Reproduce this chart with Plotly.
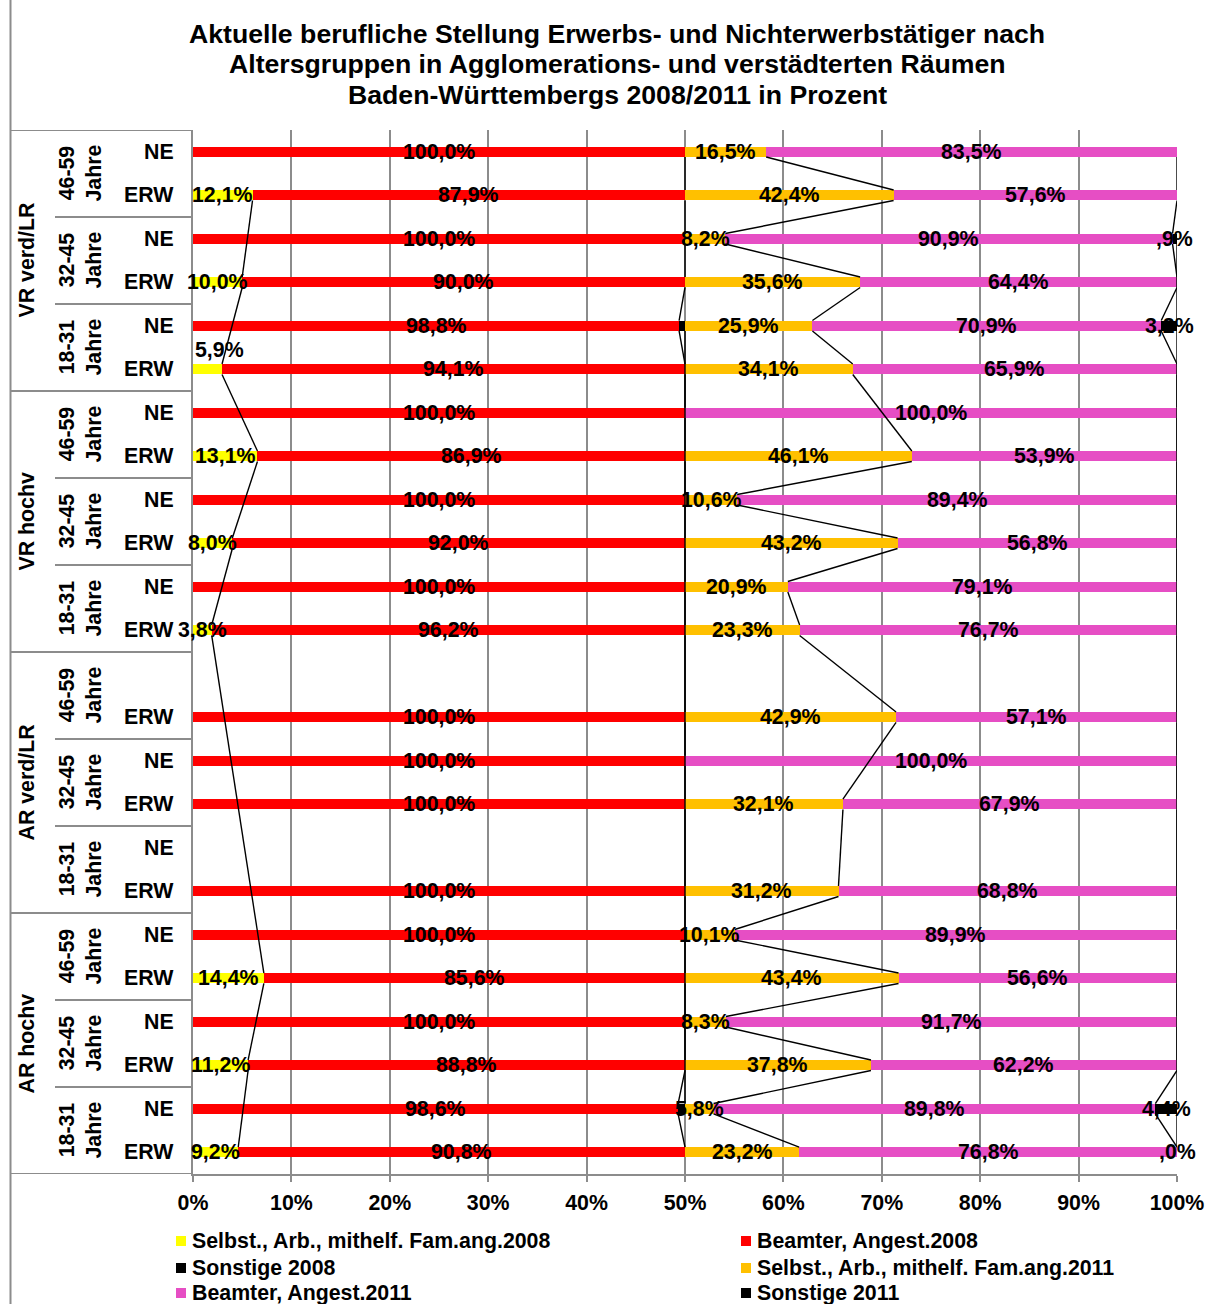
import plotly.graph_objects as go

# ---------------- data ----------------
regions = ["VR verd/LR", "VR hochv", "AR verd/LR", "AR hochv"]
age_groups = ["46-59<br>Jahre", "32-45<br>Jahre", "18-31<br>Jahre"]
row_labels = (["NE", "ERW"] * 6
              + ["", "ERW", "NE", "ERW", "NE", "ERW"]
              + ["NE", "ERW"] * 3)

series_names = [
    "Selbst., Arb., mithelf. Fam.ang.2008",
    "Beamter, Angest.2008",
    "Sonstige 2008",
    "Selbst., Arb., mithelf. Fam.ang.2011",
    "Beamter, Angest.2011",
    "Sonstige 2011",
]

selbst_2008 = [None, 12.1, None, 10.0, None, 5.9,
               None, 13.1, None, 8.0, None, 3.8,
               None, None, None, None, None, None,
               None, 14.4, None, 11.2, None, 9.2]
beamter_2008 = [100.0, 87.9, 100.0, 90.0, 98.8, 94.1,
                100.0, 86.9, 100.0, 92.0, 100.0, 96.2,
                None, 100.0, 100.0, 100.0, None, 100.0,
                100.0, 85.6, 100.0, 88.8, 98.6, 90.8]
sonstige_2008 = [None, None, None, None, 1.2, None,
                 None, None, None, None, None, None,
                 None, None, None, None, None, None,
                 None, None, None, None, 1.4, None]
selbst_2011 = [16.5, 42.4, 8.2, 35.6, 25.9, 34.1,
               None, 46.1, 10.6, 43.2, 20.9, 23.3,
               None, 42.9, None, 32.1, None, 31.2,
               10.1, 43.4, 8.3, 37.8, 5.8, 23.2]
beamter_2011 = [83.5, 57.6, 90.9, 64.4, 70.9, 65.9,
                100.0, 53.9, 89.4, 56.8, 79.1, 76.7,
                None, 57.1, 100.0, 67.9, None, 68.8,
                89.9, 56.6, 91.7, 62.2, 89.8, 76.8]
sonstige_2011 = [None, None, 0.9, None, 3.2, None,
                 None, None, None, None, None, None,
                 None, None, None, None, None, None,
                 None, None, None, None, 4.4, 0.0]

series_values = [selbst_2008, beamter_2008, sonstige_2008,
                 selbst_2011, beamter_2011, sonstige_2011]
colors = ["#FFFF00", "#FF0000", "#000000", "#FFC000", "#E64EC4", "#000000"]
show_labels = [True, True, False, True, True, True]

tick_vals = [0, 20, 40, 60, 80, 100, 120, 140, 160, 180, 200]
tick_text = ["0%", "10%", "20%", "30%", "40%", "50%", "60%", "70%", "80%", "90%", "100%"]

title_lines = [
    "Aktuelle berufliche Stellung Erwerbs- und Nichterwerbstätiger nach",
    "Altersgruppen in Agglomerations- und verstädterten Räumen",
    "Baden-Württembergs 2008/2011 in Prozent",
]

# ---------------- layout helpers ----------------
W, H = 1216, 1304
L, R, T, B = 193, 1177, 130, 1174
FONT = "Liberation Sans, Arial, sans-serif"
GRID = "#8c8c8c"
FS = 21.33
TFS = 26.67


def px(x):
    return (x - L) / (R - L)


def py(y):
    return (B - y) / (B - T)


def fmt(v):
    s = f"{v:.1f}".replace(".", ",")
    if s.startswith("0,"):
        s = s[1:]
    return s + "%"


def bfont(size=FS):
    return dict(family=FONT, size=size, color="black", weight="bold")


n = len(row_labels)
rows = list(range(n))
bar_w = 0.24
hw = bar_w / 2

fig = go.Figure()

for name, vals, col in zip(series_names, series_values, colors):
    fig.add_trace(go.Bar(
        y=rows, x=vals, orientation="h", name=name,
        marker=dict(color=col, line=dict(width=0)),
        width=bar_w, showlegend=False, hoverinfo="x+name",
    ))

# series lines (Excel-style) and data labels
annotations = []
cum = [0.0] * n
lx, ly = [], []
for k, vals in enumerate(series_values):
    pts = []
    for i in range(n):
        v = vals[i]
        if v is None:
            continue
        start = cum[i]
        cum[i] += v
        pts.append((cum[i], i))
        if show_labels[k]:
            ann = dict(x=start + v / 2, y=i, xref="x", yref="y", text=fmt(v),
                       showarrow=False, font=bfont())
            if k == 0 and i == 5:
                ann.update(x=0, xanchor="left", yshift=19)
            annotations.append(ann)
    for (xa, ia), (xb, ib) in zip(pts[:-1], pts[1:]):
        lx += [xa, xb, None]
        ly += [ia + hw, ib - hw, None]

fig.add_trace(go.Scatter(x=lx, y=ly, mode="lines",
                         line=dict(color="black", width=1.4),
                         showlegend=False, hoverinfo="skip"))

shapes = []
# left table: group and age separators
group_bounds = [-0.5, 5.5, 11.5, 17.5, 23.5]
for yb in group_bounds:
    shapes.append(dict(type="line", xref="paper", yref="y",
                       x0=px(11), x1=px(193), y0=yb, y1=yb,
                       line=dict(color=GRID, width=2)))
for g in range(4):
    for a in range(1, 3):
        yb = g * 6 + a * 2 - 0.5
        shapes.append(dict(type="line", xref="paper", yref="y",
                           x0=px(55), x1=px(193), y0=yb, y1=yb,
                           line=dict(color=GRID, width=2)))
# chart border left
shapes.append(dict(type="line", xref="paper", yref="paper",
                   x0=px(10.5), x1=px(10.5), y0=py(0), y1=py(H),
                   line=dict(color=GRID, width=2)))

# region and age labels
for g, reg in enumerate(regions):
    annotations.append(dict(x=px(26), y=g * 6 + 2.5, xref="paper", yref="y",
                            text=reg, textangle=-90, showarrow=False,
                            xanchor="center", yanchor="middle", font=bfont()))
    for a, age in enumerate(age_groups):
        annotations.append(dict(x=px(80), y=g * 6 + a * 2 + 0.5, xref="paper", yref="y",
                                text=age, textangle=-90, showarrow=False,
                                xanchor="center", yanchor="middle", font=bfont()))
# NE / ERW labels
for i, lab in enumerate(row_labels):
    if lab:
        annotations.append(dict(x=px(176), y=i, xref="paper", yref="y",
                                text=lab, xanchor="right", yanchor="middle",
                                showarrow=False, font=bfont()))

# title
for j, line in enumerate(title_lines):
    annotations.append(dict(x=px(617), y=py(34 + j * 30.5), xref="paper", yref="paper",
                            text=line, showarrow=False, xanchor="center", yanchor="middle",
                            font=bfont(TFS)))

# legend (manual, two columns)
leg_cols = [176, 741]
leg_rows = [1241, 1268, 1293]
for idx, (name, col) in enumerate(zip(series_names, colors)):
    cx = leg_cols[idx % 2]
    cy = leg_rows[idx // 2]
    shapes.append(dict(type="rect", xref="paper", yref="paper",
                       x0=px(cx), x1=px(cx + 10), y0=py(cy - 5), y1=py(cy + 5),
                       fillcolor=col, line=dict(width=0)))
    annotations.append(dict(x=px(cx + 14), y=py(cy), xref="paper", yref="paper",
                            text=name, showarrow=False, xanchor="left", yanchor="middle",
                            font=bfont()))

fig.update_layout(
    width=W, height=H,
    margin=dict(l=L, r=W - R, t=T, b=H - B, pad=0),
    barmode="stack",
    plot_bgcolor="white", paper_bgcolor="white",
    showlegend=False,
    shapes=shapes,
    annotations=annotations,
    font=dict(family=FONT, size=FS, color="black"),
    xaxis=dict(range=[0, 200], tickvals=tick_vals, ticktext=tick_text,
               showgrid=True, gridcolor=GRID, gridwidth=1.5,
               showline=True, linecolor=GRID, linewidth=2,
               ticks="outside", ticklen=6, tickcolor=GRID, tickwidth=1.5,
               zeroline=False, fixedrange=True, ticklabelstandoff=2,
               tickfont=bfont()),
    yaxis=dict(range=[n - 0.5, -0.5], showticklabels=False, showgrid=False,
               zeroline=False, showline=True, linecolor=GRID, linewidth=2,
               ticks="", fixedrange=True),
)

fig.write_html("out.html")
